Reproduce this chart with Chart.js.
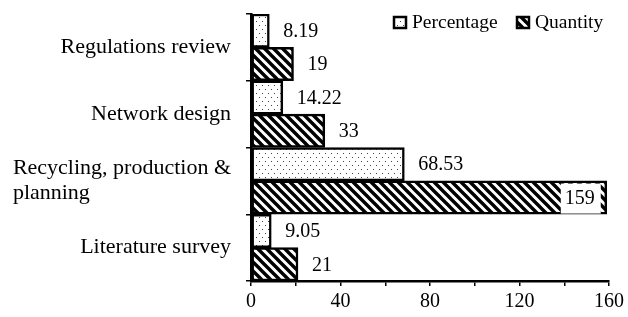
<!DOCTYPE html>
<html>
<head>
<meta charset="utf-8">
<script src="https://cdn.jsdelivr.net/npm/chart.js@4.4.1/dist/chart.umd.min.js"></script>
<style>
  html, body { margin: 0; padding: 0; background: #fff; }
  #wrap { width: 628px; height: 317px; }
</style>
</head>
<body>
<div id="wrap"><canvas id="chart" width="628" height="317"></canvas></div>
<script>
// data
const categories = [
    ['Regulations review'],
    ['Network design'],
    ['Recycling, production &', 'planning'],
    ['Literature survey']
];
const percentage = [8.19, 14.22, 68.53, 9.05];
const quantity = [19, 33, 159, 21];
const xTicks = [0, 40, 80, 120, 160];

const FONT = "'Liberation Serif', 'Times New Roman', serif";

function dotPattern() {
    const c = document.createElement('canvas');
    c.width = 6; c.height = 8;
    const g = c.getContext('2d');
    g.fillStyle = '#fff';
    g.fillRect(0, 0, 6, 8);
    g.fillStyle = '#444';
    g.fillRect(1, 1, 1, 1);
    g.fillRect(4, 5, 1, 1);
    return g.createPattern(c, 'repeat');
}

function hatchPattern() {
    const s = 9;
    const c = document.createElement('canvas');
    c.width = s; c.height = s;
    const g = c.getContext('2d');
    g.fillStyle = '#fff';
    g.fillRect(0, 0, s, s);
    g.strokeStyle = '#000';
    g.lineWidth = 3.4;
    g.beginPath();
    g.moveTo(-2, -2); g.lineTo(s + 2, s + 2);
    g.moveTo(-2, s - 2); g.lineTo(2, s + 2);
    g.moveTo(s - 2, -2); g.lineTo(s + 2, 2);
    g.stroke();
    return g.createPattern(c, 'repeat');
}

const dots = dotPattern();
const hatch = hatchPattern();

// category labels, value labels and legend drawn on top
const extras = {
    id: 'extras',
    afterDraw(chart) {
        const ctx = chart.ctx;
        const y = chart.scales.y;
        ctx.save();
        ctx.fillStyle = '#000';

        // category labels: right edge at x=231, multi-line block left aligned
        ctx.font = '22px ' + FONT;
        ctx.textBaseline = 'middle';
        ctx.textAlign = 'left';
        categories.forEach((lines, i) => {
            const cy = y.getPixelForValue(i);
            const w = Math.max(...lines.map(l => ctx.measureText(l).width));
            const lh = 25;
            lines.forEach((l, k) => {
                ctx.fillText(l, 231 - w, cy + (k - (lines.length - 1) / 2) * lh);
            });
        });

        // value labels
        ctx.font = '20px ' + FONT;
        chart.data.datasets.forEach((ds, di) => {
            const meta = chart.getDatasetMeta(di);
            meta.data.forEach((el, i) => {
                const txt = String(ds.data[i]);
                const w = ctx.measureText(txt).width;
                let tx = el.x + 14;
                if (tx + w > chart.width - 4) {
                    tx = el.x - 12 - w;
                    ctx.fillStyle = '#fff';
                    ctx.fillRect(tx - 4, el.y - 14, w + 10, 30);
                    ctx.fillStyle = '#000';
                }
                ctx.fillText(txt, tx, el.y + 1);
            });
        });

        // legend
        const items = [
            { x: 394, label: chart.data.datasets[0].label, fill: dots },
            { x: 517, label: chart.data.datasets[1].label, fill: hatch }
        ];
        ctx.font = '19.5px ' + FONT;
        items.forEach(it => {
            ctx.fillStyle = it.fill;
            ctx.fillRect(it.x, 17, 12, 11);
            ctx.strokeStyle = '#000';
            ctx.lineWidth = 2.5;
            ctx.strokeRect(it.x, 17, 12, 11);
            ctx.fillStyle = '#000';
            ctx.fillText(it.label, it.x + 18, 23);
        });
        ctx.restore();
    }
};

new Chart(document.getElementById('chart'), {
    type: 'bar',
    data: {
        labels: categories.map(c => c.join(' ')),
        datasets: [{
            label: 'Percentage',
            data: percentage,
            backgroundColor: dots,
            borderColor: '#000',
            borderWidth: 2.5,
            borderSkipped: false,
            categoryPercentage: 1,
            barPercentage: 1
        }, {
            label: 'Quantity',
            data: quantity,
            backgroundColor: hatch,
            borderColor: '#000',
            borderWidth: 2.5,
            borderSkipped: false,
            categoryPercentage: 1,
            barPercentage: 1
        }]
    },
    options: {
        indexAxis: 'y',
        responsive: false,
        animation: false,
        layout: { padding: { left: 0, top: 14, right: 18, bottom: 0 } },
        plugins: {
            legend: { display: false },
            tooltip: { enabled: false }
        },
        scales: {
            x: {
                min: 0,
                max: 160,
                ticks: {
                    stepSize: 20,
                    autoSkip: false,
                    maxRotation: 0,
                    color: '#000',
                    font: { family: FONT, size: 20 },
                    padding: 4,
                    callback: v => xTicks.includes(v) ? v : ''
                },
                grid: { drawOnChartArea: false, tickLength: 5, color: '#000', lineWidth: 1.5 },
                border: { color: '#000', width: 2.5 },
                afterFit: s => { s.height = 36; }
            },
            y: {
                ticks: { display: false },
                grid: { offset: true, drawOnChartArea: false, tickLength: 5, color: '#000', lineWidth: 1.5 },
                border: { color: '#000', width: 2.5 },
                afterFit: s => { s.width = 251; }
            }
        }
    },
    plugins: [extras]
});
</script>
</body>
</html>
